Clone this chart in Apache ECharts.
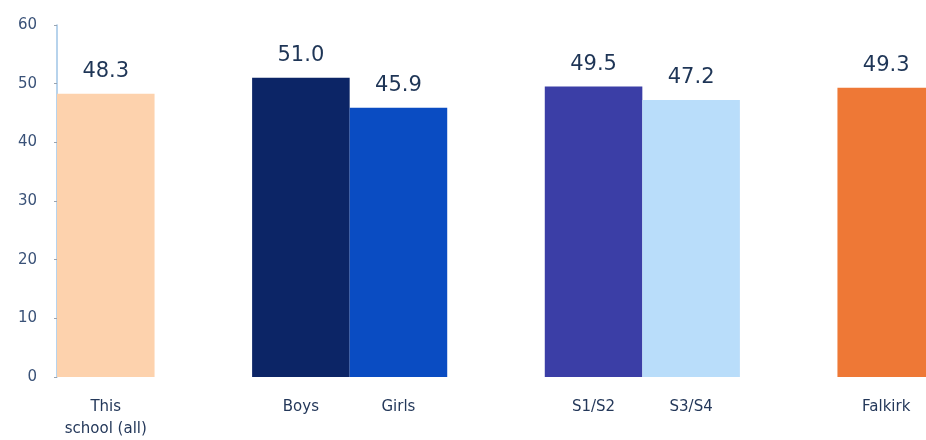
<!DOCTYPE html>
<html><head><meta charset="utf-8">
<script src="https://cdn.jsdelivr.net/npm/echarts@6/dist/echarts.min.js"></script>
<style>html,body{margin:0;padding:0;background:#fff;overflow:hidden;width:926px;height:440px}#c{width:935px;height:440px}</style>
</head><body><div id="c"></div>
<script>
const categories = ['This\nschool (all)', '', 'Boys', 'Girls', '', 'S1/S2', 'S3/S4', '', 'Falkirk'];
const values = [48.3, null, 51.0, 45.9, null, 49.5, 47.2, null, 49.3];
const colors = ['#fdd2ad', null, '#0c2566', '#0a4cc2', null, '#3b3ea6', '#b9ddfa', null, '#ee7836'];
const yTicks = [0, 10, 20, 30, 40, 50, 60];

const chart = echarts.init(document.getElementById('c'));
chart.setOption({
  animation: false,
  grid: { left: 57, right: 0, top: 25, bottom: 59 },
  xAxis: {
    type: 'category', data: categories,
    axisLine: { show: false }, axisTick: { show: false },
    axisLabel: { interval: 0, color: '#24385a', fontFamily: 'DejaVu Sans', fontSize: 15, margin: 19, lineHeight: 22 }
  },
  yAxis: {
    type: 'value', min: 0, max: 60, interval: 10,
    splitLine: { show: false },
    axisLine: { show: true, lineStyle: { color: '#9fc4e6', width: 1.5 } },
    axisTick: { show: true, length: 3, lineStyle: { color: '#9aa4b0' } },
    axisLabel: { color: '#3a5278', fontFamily: 'DejaVu Sans', fontSize: 15, margin: 20,
      formatter: v => yTicks.includes(v) ? String(v) : '' }
  },
  series: [{
    type: 'bar', barWidth: '100%', barCategoryGap: 0,
    data: values.map((v, i) => v == null ? null : { value: v, itemStyle: { color: colors[i] } }),
    label: { show: true, position: 'top', distance: 12, color: '#1e3556', fontFamily: 'DejaVu Sans', fontSize: 21,
      formatter: p => p.value.toFixed(1) }
  }]
});
</script></body></html>
